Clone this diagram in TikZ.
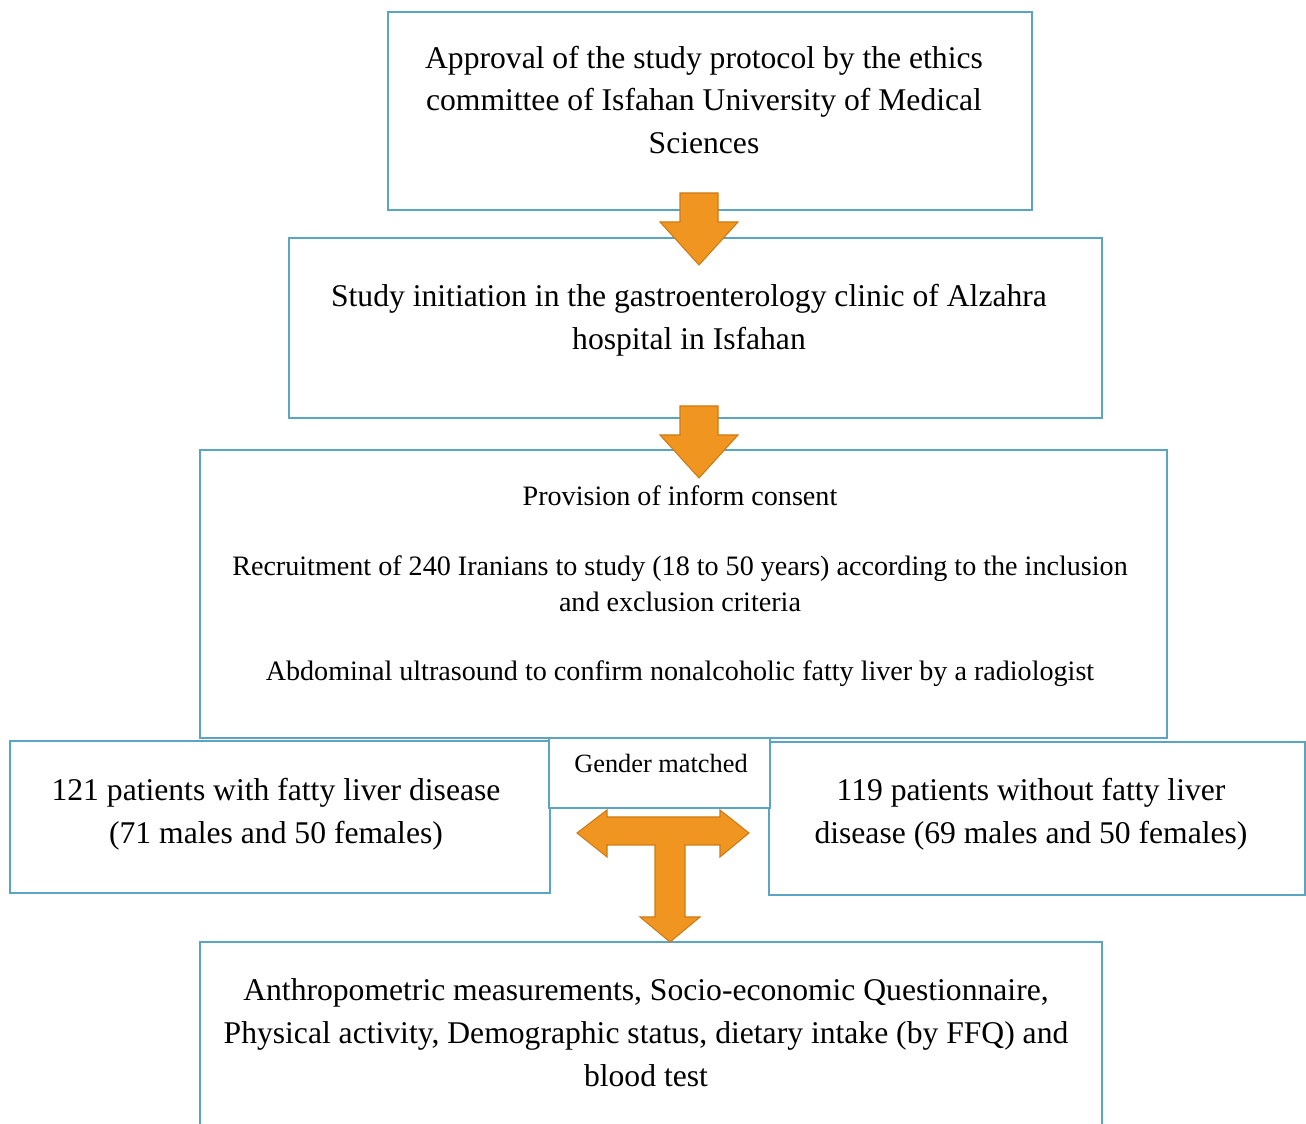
\documentclass[tikz,border=0pt]{standalone}
\usepackage{fontspec}
\setmainfont{Liberation Serif}
\definecolor{edgeblue}{RGB}{91,164,194}
\definecolor{arrfill}{RGB}{239,149,32}
\definecolor{arredge}{RGB}{206,122,22}
\tikzset{%
    box/.style={rectangle, draw=edgeblue, line width=1.2pt, fill=white, inner sep=0pt},
    txt/.style={align=center, inner sep=0pt, font=\fontsize{18}{24.4}\selectfont},
    txs/.style={align=center, inner sep=0pt, font=\fontsize{16}{20.4}\selectfont},
    txg/.style={align=center, inner sep=0pt, font=\fontsize{15}{18}\selectfont},
    blk/.style={fill=arrfill, draw=arredge, line width=0.6pt, line join=miter},
    dnarrow/.pic={\draw[blk] (0,0) -- (-39,-43) -- (-19,-43) -- (-19,-72) -- (19,-72) -- (19,-43) -- (39,-43) -- cycle;},
}
\begin{document}
\begin{tikzpicture}[x=0.02cm, y=-0.02cm]
    \clip (0,0) rectangle (1306,1124);
    \fill[white] (0,0) rectangle (1306,1124);
    % boxes
    \node[box, minimum width=12.88cm, minimum height=3.96cm] (appr) at (710,111) {};
    \node[box, minimum width=16.26cm, minimum height=3.6cm] (init) at (695.5,328) {};
    \node[box, minimum width=19.34cm, minimum height=5.76cm] (recr) at (683.5,594) {};
    \node[box, minimum width=10.8cm, minimum height=3.04cm] (fat) at (280,817) {};
    \node[box, minimum width=10.72cm, minimum height=3.06cm] (nofat) at (1037,818.5) {};
    \node[box, minimum width=4.42cm, minimum height=1.4cm] (gend) at (659.5,773) {};
    \node[box, minimum width=18.04cm, minimum height=4cm] (meas) at (651,1042) {};
    % texts
    \node[txt] (apprtxt) at (704,100) {Approval of the study protocol by the ethics\\committee of Isfahan University of Medical\\Sciences};
    \node[txt] (inittxt) at (689,320) {Study initiation in the gastroenterology clinic of Alzahra\\hospital in Isfahan};
    \node[txs] (recrtxt) at (680,586.5) {Provision of inform consent\\[19.2pt]Recruitment of 240 Iranians to study (18 to 50 years) according to the inclusion\\and exclusion criteria\\[19.2pt]Abdominal ultrasound to confirm nonalcoholic fatty liver by a radiologist};
    \node[txg] (gendtxt) at (661,763) {Gender matched};
    \node[txt] (fattxt) at (276,814) {121 patients with fatty liver disease\\(71 males and 50 females)};
    \node[txt] (nofattxt) at (1031,814) {119 patients without fatty liver\\disease (69 males and 50 females)};
    \node[txt] (meastxt) at (646,1033) {Anthropometric measurements, Socio-economic Questionnaire,\\Physical activity, Demographic status, dietary intake (by FFQ) and\\blood test};
    % block arrows
    \pic at (699,265) {dnarrow};
    \pic at (699,478) {dnarrow};
    \draw[blk] (577,833) -- (607,810) -- (607,817) -- (720,817) -- (720,810) -- (749,833) -- (720,857) -- (720,845) -- (685,845) -- (685,917) -- (700,917) -- (670,942) -- (640,917) -- (655,917) -- (655,845) -- (607,845) -- (607,857) -- cycle;
\end{tikzpicture}
\end{document}
